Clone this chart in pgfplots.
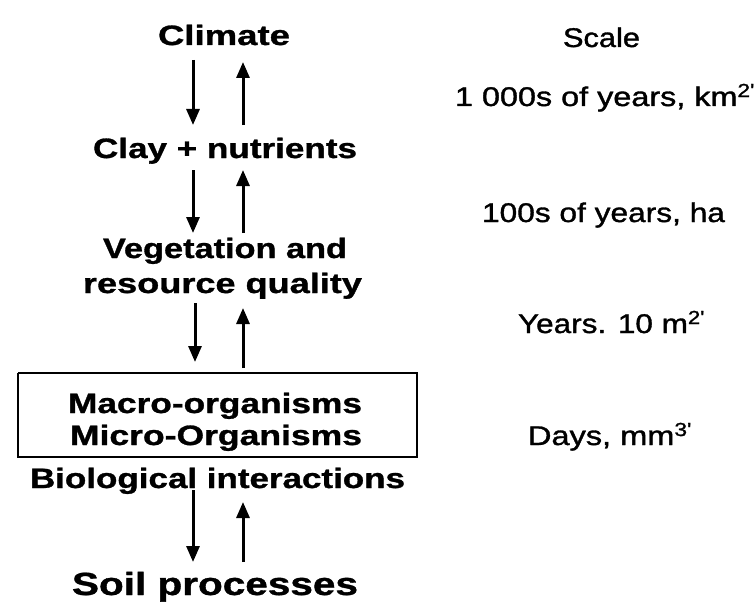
\documentclass[border=0pt]{standalone}
\usepackage{fontspec}
\setmainfont{Liberation Sans}
\newfontfamily\medfont[FakeBold=1.2]{Liberation Sans}
\newfontfamily\heavyfont[FakeBold=1.0]{Liberation Sans Bold}
\usepackage{graphicx}
\usepackage{pgfplots}
\pgfplotsset{compat=1.18}
\usetikzlibrary{arrows.meta}
\newcommand{\lt}[2]{\resizebox{#1bp}{\height}{#2}}
\begin{document}
\begin{tikzpicture}
\begin{axis}[width=755bp,height=603bp,scale only axis,hide axis,
  xmin=0,xmax=755,ymin=0,ymax=603,y dir=reverse,clip=false,
  every axis plot/.append style={black,no marks}]
\path (rel axis cs:0,0) rectangle (rel axis cs:1,1);
% arrows: x y u v
\addplot[line width=3bp,-{Triangle[width=13bp,length=16bp]},
  quiver={u=\thisrow{u},v=\thisrow{v}}] table {
x y u v
193 60 0 65
243 125 0 -63
193 170 0 63
243 233 0 -63
195 303 0 59
243 368 0 -60
193 490 0 72
243 562 0 -60
};
% box
\addplot[line width=2bp] coordinates {(18,373)(417,373)(417,457)(18,457)(18,373)};
% left column
\begin{scope}[every node/.style={anchor=base,inner sep=0pt,font=\heavyfont\fontsize{28bp}{30bp}\selectfont}]
\node at (axis cs:224,45) {\lt{132}{Climate}};
\node at (axis cs:225,158) {\lt{264}{Clay + nutrients}};
\node at (axis cs:225,258) {\lt{244}{Vegetation and}};
\node at (axis cs:222.5,293) {\lt{279}{resource quality}};
\node at (axis cs:215,413) {\lt{294}{Macro-organisms}};
\node at (axis cs:216,445) {\lt{292}{Micro-Organisms}};
\node at (axis cs:217.5,488) {\lt{375}{Biological interactions}};
\node[font=\heavyfont\fontsize{32bp}{34bp}\selectfont] at (axis cs:215,595) {\lt{286}{Soil processes}};
\end{scope}
% right column
\begin{scope}[every node/.style={anchor=base,inner sep=0pt,font=\medfont\fontsize{27bp}{30bp}\selectfont}]
\node at (axis cs:601.5,47) {\lt{77}{Scale}};
\node at (axis cs:605,106) {\lt{300}{1 000s of years, km\textsuperscript{2'}}};
\node at (axis cs:603.5,222) {\lt{243}{100s of years, ha}};
\node at (axis cs:611.5,333) {\lt{187}{Years. 10 m\textsuperscript{2'}}};
\node at (axis cs:610,445) {\lt{164}{Days, mm\textsuperscript{3'}}};
\end{scope}
\end{axis}
\end{tikzpicture}
\end{document}
